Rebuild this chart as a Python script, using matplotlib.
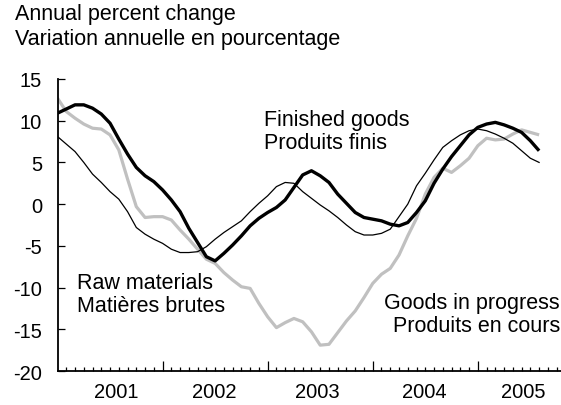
import numpy as np
import matplotlib.pyplot as plt

plt.rcParams['font.family'] = ['Liberation Sans', 'DejaVu Sans']

# monthly observations, Jan 2001 = month 0
months = np.arange(56)

finished = [10.9, 11.4, 11.9, 11.9, 11.5, 10.8, 9.7, 7.8, 6.0, 4.4,
            3.4, 2.7, 1.7, 0.5, -0.9, -2.9, -4.6, -6.3, -6.8, -5.9,
            -4.9, -3.8, -2.6, -1.7, -1.0, -0.4, 0.5, 2.0, 3.5, 4.0,
            3.4, 2.6, 1.2, 0.1, -1.0, -1.6, -1.8, -2.0, -2.4, -2.6,
            -2.2, -1.0, 0.4, 2.5, 4.2, 5.7, 7.0, 8.3, 9.2, 9.6,
            9.8, 9.5, 9.1, 8.6, 7.6, 6.4]

raw = [8.1, 7.2, 6.3, 5.0, 3.6, 2.6, 1.5, 0.6, -0.9, -2.8,
       -3.6, -4.2, -4.7, -5.4, -5.8, -5.8, -5.7, -5.1, -4.2, -3.4,
       -2.7, -2.0, -0.9, 0.1, 1.0, 2.1, 2.6, 2.5, 1.5, 0.7,
       -0.1, -0.8, -1.6, -2.5, -3.3, -3.7, -3.7, -3.5, -3.0, -1.5,
       0.0, 2.2, 3.7, 5.3, 6.8, 7.6, 8.3, 8.8, 9.0, 8.8,
       8.4, 7.9, 7.3, 6.4, 5.5, 5.0]

in_progress = [12.7, 11.1, 10.3, 9.6, 9.1, 9.0, 8.3, 6.5, 3.0, -0.3,
               -1.6, -1.5, -1.5, -1.9, -3.1, -4.2, -5.4, -6.6, -7.1, -8.2,
               -9.1, -9.9, -10.1, -11.9, -13.5, -14.8, -14.2, -13.7, -14.1, -15.3,
               -16.9, -16.8, -15.4, -14.0, -12.8, -11.2, -9.5, -8.4, -7.7, -6.1,
               -3.8, -1.7, 1.2, 3.2, 4.3, 3.8, 4.6, 5.5, 7.0, 7.9,
               7.7, 7.8, 8.4, 8.9, 8.6, 8.3]

years = ['2001', '2002', '2003', '2004', '2005']
year_pos = [6.7, 17.9, 29.7, 41.9, 53.2]
yticks = [-20, -15, -10, -5, 0, 5, 10, 15]

fig = plt.figure(figsize=(5.61, 4.06), dpi=100)
ax = fig.add_axes([0.1025, 0.0837, 0.8975, 0.7193])

ax.plot(months, in_progress, color='#c0c0c0', lw=2.3, solid_capstyle='butt')
ax.plot(months, raw, color='black', lw=0.9)
ax.plot(months, finished, color='black', lw=2.4, solid_capstyle='butt')

ax.set_xlim(0, 57.5)
ax.set_ylim(-20, 15)
ax.set_yticks(yticks)
ax.set_yticklabels([str(v) for v in yticks])

ax.set_xticks([12, 24, 36, 48])
ax.set_xticklabels([])
ax.set_xticks([m for m in range(1, 58) if m % 12 != 0], minor=True)

ax.tick_params(axis='y', direction='in', length=5, width=0.9, pad=11, labelsize=14.5)
ax.tick_params(axis='x', which='major', direction='in', length=7, width=0.9)
ax.tick_params(axis='x', which='minor', direction='in', length=3, width=0.9)

for s in ['top', 'right']:
    ax.spines[s].set_visible(False)
for s in ['left', 'bottom']:
    ax.spines[s].set_linewidth(1.3)

for lab, x in zip(years, year_pos):
    ax.text(x, -0.071, lab, transform=ax.get_xaxis_transform(),
            ha='center', va='center', fontsize=14.5)

# series labels
ax.text(23.6, 8.8, 'Finished goods\nProduits finis', ha='left', va='center',
        fontsize=15.5, linespacing=1.15)
ax.text(2.2, -10.8, 'Raw materials\nMatières brutes', ha='left', va='center',
        fontsize=15.5, linespacing=1.15)
ax.text(57.4, -13.2, 'Goods in progress\nProduits en cours', ha='right', va='center',
        multialignment='right', fontsize=15.5, linespacing=1.15)

fig.text(0.027, 0.964, 'Annual percent change', ha='left', va='center', fontsize=15.5)
fig.text(0.027, 0.903, 'Variation annuelle en pourcentage', ha='left', va='center', fontsize=15.5)

fig.savefig('out.png', dpi=100)
